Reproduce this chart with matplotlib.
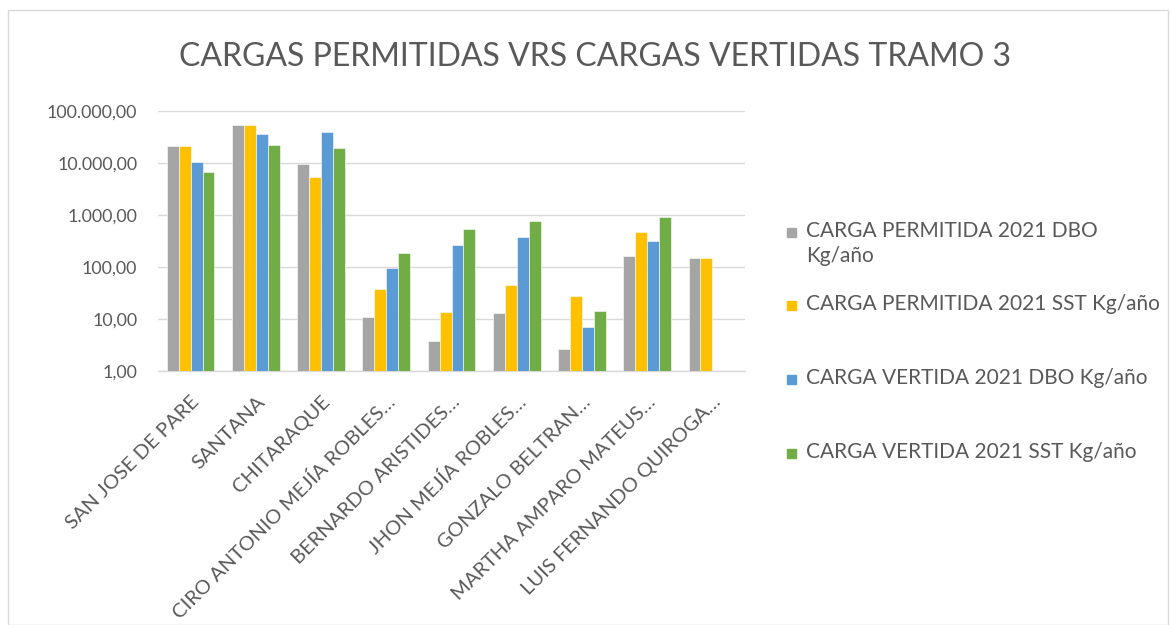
import matplotlib.pyplot as plt
import numpy as np
from matplotlib.patches import Rectangle
from matplotlib.ticker import FixedLocator, FuncFormatter

# ---------------- DATA ----------------
categories = [
    "SAN JOSE DE PARE", "SANTANA", "CHITARAQUE",
    "CIRO ANTONIO MEJÍA ROBLES…", "BERNARDO ARISTIDES…",
    "JHON MEJÍA ROBLES…", "GONZALO BELTRAN…",
    "MARTHA AMPARO MATEUS…", "LUIS FERNANDO QUIROGA…",
]
permitida_dbo = [21000, 54000, 9400, 10.7, 3.8, 13.2, 2.6, 166, 148]
permitida_sst = [21000, 54000, 5400, 37.6, 13.4, 46, 27.2, 480, 148]
vertida_dbo = [10300, 36500, 40000, 96.6, 267, 385, 7.1, 323, np.nan]
vertida_sst = [6600, 22400, 19400, 190, 541, 771, 14.4, 930, np.nan]

series_labels = [
    "CARGA PERMITIDA 2021 DBO\nKg/año",
    "CARGA PERMITIDA 2021 SST Kg/año",
    "CARGA VERTIDA 2021 DBO Kg/año",
    "CARGA VERTIDA 2021 SST Kg/año",
]
colors = ["#A5A5A5", "#FFC000", "#5B9BD5", "#70AD47"]
y_ticks = [1, 10, 100, 1000, 10000, 100000]
# --------------------------------------

TEXT = "#595959"
GRID = "#D9D9D9"
W, H = 1170, 625
plt.rcParams["font.family"] = ["Lato", "DejaVu Sans"]

fig = plt.figure(figsize=(W / 100, H / 100), dpi=100)
fig.patches.append(Rectangle((8 / W, 0), 1160 / W, 615 / H,
                             transform=fig.transFigure, fill=False,
                             edgecolor=GRID, linewidth=1.0))

ax = fig.add_axes([158 / W, 1 - 371 / H, 587 / W, 260 / H])

x = np.arange(len(categories))
bw = 0.183
all_series = [permitida_dbo, permitida_sst, vertida_dbo, vertida_sst]
for i, (vals, col, lab) in enumerate(zip(all_series, colors, series_labels)):
    ax.bar(x + (i - 1.5) * bw, vals, width=bw, color=col, label=lab,
           edgecolor="white", linewidth=0.4, zorder=3)

ax.set_yscale("log")
ax.set_ylim(1, 100000)
ax.set_xlim(-0.5, len(categories) - 0.5)
ax.yaxis.set_major_locator(FixedLocator(y_ticks))
ax.yaxis.set_minor_locator(FixedLocator([]))
ax.yaxis.set_major_formatter(FuncFormatter(
    lambda v, p: f"{v:,.2f}".replace(",", "X").replace(".", ",").replace("X", ".")))
ax.grid(axis="y", color=GRID, linewidth=1.0, zorder=0)
for s in ["top", "right", "left"]:
    ax.spines[s].set_visible(False)
ax.spines["bottom"].set_color(GRID)
ax.spines["bottom"].set_linewidth(1.0)
ax.tick_params(length=0, colors=TEXT, labelsize=12.8)
ax.tick_params(axis="y", pad=15)
ax.set_xticks(x)
ax.set_xticklabels(categories, rotation=45, ha="right",
                   rotation_mode="anchor", color=TEXT, fontsize=14.5)
ax.tick_params(axis="x", pad=16)

fig.text(595 / W, 1 - 57 / H, "CARGAS PERMITIDAS VRS CARGAS VERTIDAS TRAMO 3",
         ha="center", va="center", fontsize=23, color=TEXT)

# legend (Excel style, first lines evenly spaced)
leg_y = [232, 305, 379, 453]
for col, lab, yc in zip(colors, series_labels, leg_y):
    fig.patches.append(Rectangle((787 / W, 1 - (yc + 4.5) / H), 9 / W, 9 / H,
                                 transform=fig.transFigure, color=col))
    fig.text(806 / W, 1 - (yc - 11) / H, lab, ha="left", va="top",
             fontsize=15, color=TEXT, linespacing=1.3)

plt.savefig("out.png", dpi=100)
